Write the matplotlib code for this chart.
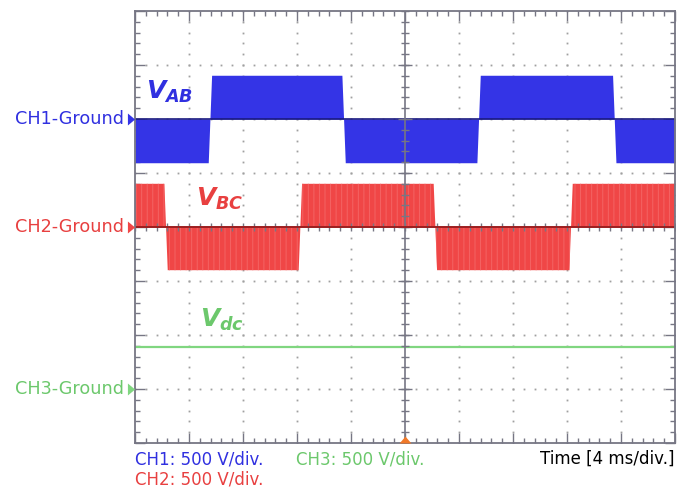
import numpy as np
import matplotlib
matplotlib.use("Agg")
import matplotlib.pyplot as plt
from matplotlib.ticker import MultipleLocator
from matplotlib.transforms import blended_transform_factory

plt.rcParams['font.family'] = ['DejaVu Sans']
plt.rcParams['mathtext.fontset'] = 'custom'
plt.rcParams['mathtext.it'] = 'DejaVu Sans:italic:bold'
plt.rcParams['mathtext.rm'] = 'DejaVu Sans:bold'
plt.rcParams['mathtext.bf'] = 'DejaVu Sans:bold'
plt.rcParams['hatch.linewidth'] = 0.7

# ---------------- data ----------------
time_per_div_ms = 4          # 4 ms/div
volt_per_div = 500           # 500 V/div for all channels
n_xdiv = 10
n_ydiv = 8

channel_names = ["CH1", "CH2", "CH3"]
ground_offsets_div = [2, 0, -3]          # ground marker positions (divisions)

# V_AB : square-ish PWM line voltage (CH1)
vab_edges_ms = [5.55, 15.45, 25.45, 35.5]
vab_start_sign = -1
vab_amplitude_V = 405

# V_BC : (CH2)
vbc_edges_ms = [2.3, 12.25, 22.25, 32.3]
vbc_start_sign = 1
vbc_amplitude_V = 400

# V_dc : (CH3)
vdc_V = 390

edge_ramp_ms = 0.25

bottom_labels = ["CH1: 500 V/div.", "CH2: 500 V/div.", "CH3: 500 V/div."]
time_label = "Time [4 ms/div.]"

# ---------------- styling ----------------
BLUE = '#3434e6'
BLUE_DARK = '#1a1a80'
BLUE_TXT = '#3030e0'
RED = '#f04646'
RED_LIGHT = '#f46464'
RED_DARK = '#a01818'
RED_TXT = '#e84040'
GREEN = '#80d680'
GREEN_TXT = '#6cc86c'
GRAY = '#767684'
DOT = '#a0a0a0'
ORANGE = '#f07828'

W, H = 678, 491
fig = plt.figure(figsize=(W / 100, H / 100), dpi=100)
ax = fig.add_axes([135 / W, 48 / H, 540 / W, 432 / H])
xmax = n_xdiv * time_per_div_ms
ax.set_xlim(0, xmax)
ax.set_ylim(-n_ydiv / 2, n_ydiv / 2)


def square_wave(edges, start_sign, amp, t0, t1, ramp):
    t = [t0]
    v = [start_sign * amp]
    s = start_sign
    for e in edges:
        t += [e - ramp / 2, e + ramp / 2]
        v += [s * amp, -s * amp]
        s = -s
    t.append(t1)
    v.append(s * amp)
    return np.array(t), np.array(v)


# dotted graticule
xminor = np.arange(0, xmax + 1e-9, time_per_div_ms / 5)
yminor = np.arange(-n_ydiv / 2, n_ydiv / 2 + 1e-9, 0.2)
for gy in range(-n_ydiv // 2 + 1, n_ydiv // 2):
    if gy == 0:
        continue
    ax.plot(xminor, np.full_like(xminor, gy), ls='none', marker='s', ms=1.3,
            mew=0, color=DOT, zorder=1)
for gx in range(1, n_xdiv):
    if gx == n_xdiv // 2:
        continue
    ax.plot(np.full_like(yminor, gx * time_per_div_ms), yminor, ls='none',
            marker='s', ms=1.3, mew=0, color=DOT, zorder=1)

# waveforms
t, v = square_wave(vab_edges_ms, vab_start_sign, vab_amplitude_V, 0, xmax, edge_ramp_ms)
y = v / volt_per_div + ground_offsets_div[0]
ax.fill_between(t, ground_offsets_div[0], y, color=BLUE, lw=0, zorder=2)
ax.plot([0, xmax], [ground_offsets_div[0]] * 2, color=BLUE_DARK, lw=1.2, zorder=3)

t, v = square_wave(vbc_edges_ms, vbc_start_sign, vbc_amplitude_V, 0, xmax, edge_ramp_ms)
y = v / volt_per_div + ground_offsets_div[1]
ax.fill_between(t, ground_offsets_div[1], y, facecolor=RED, edgecolor=RED_LIGHT,
                hatch='|||', lw=0, zorder=2)

ax.plot([0, xmax], [vdc_V / volt_per_div + ground_offsets_div[2]] * 2,
        color=GREEN, lw=1.6, zorder=3)

# center cross with ticks
ax.axvline(xmax / 2, color=GRAY, lw=1.2, zorder=4)
ax.axhline(0, color=GRAY, lw=1.2, zorder=4)
ymaj = np.arange(-n_ydiv / 2 + 1, n_ydiv / 2)
ax.plot(np.full_like(yminor, xmax / 2), yminor, ls='none', marker='_', ms=6,
        mew=1, color=GRAY, zorder=4)
ax.plot(np.full_like(ymaj, xmax / 2), ymaj, ls='none', marker='_', ms=10,
        mew=1, color=GRAY, zorder=4)
ax.plot(xminor, np.zeros_like(xminor), ls='none', marker='|', ms=6,
        mew=1, color=GRAY, zorder=4)
ax.plot([0, xmax], [ground_offsets_div[1]] * 2, color=RED_DARK, lw=1.3, zorder=5)

# frame & ticks
for sp in ax.spines.values():
    sp.set_color(GRAY)
    sp.set_linewidth(1.3)
    sp.set_zorder(6)
ax.xaxis.set_major_locator(MultipleLocator(time_per_div_ms))
ax.xaxis.set_minor_locator(MultipleLocator(time_per_div_ms / 5))
ax.yaxis.set_major_locator(MultipleLocator(1))
ax.yaxis.set_minor_locator(MultipleLocator(0.2))
ax.tick_params(which='both', direction='in', top=True, right=True,
               labelbottom=False, labelleft=False, color=GRAY, width=1)
ax.tick_params(which='major', length=7)
ax.tick_params(which='minor', length=3.5)

# ground markers & labels
bt = blended_transform_factory(ax.transAxes, ax.transData)
gcols = [BLUE, RED, GREEN]
gtxt = [BLUE_TXT, RED_TXT, GREEN_TXT]
gmark = [(-0.6, -1), (-0.6, 1), (0.6, 0)]
for name, off, c, tc in zip(channel_names, ground_offsets_div, gcols, gtxt):
    ax.plot([-0.0065], [off], marker=gmark, ms=8.6, color=c, mew=0,
            transform=bt, clip_on=False, zorder=7)
    ax.text(-0.021, off, f"{name}-Ground", transform=bt, ha='right',
            va='center', color=tc, fontsize=12.7)

# trigger marker
tmark = [(-1, 0), (1, 0), (0, 1.17)]
ax.plot([xmax / 2], [-n_ydiv / 2], marker=tmark, ms=10, color=ORANGE, mew=0,
        clip_on=False, zorder=8)

# trace labels
ax.text(0.8, 2.5, r'$V_{AB}$', color=BLUE_TXT, fontsize=18, ha='left', va='center', zorder=9)
ax.text(4.55, 0.52, r'$V_{BC}$', color=RED_TXT, fontsize=18, ha='left', va='center', zorder=9)
ax.text(4.8, -1.72, r'$V_{dc}$', color=GREEN_TXT, fontsize=18, ha='left', va='center', zorder=9)

# bottom annotations
fig.text(135 / W, 1 - 459 / H, bottom_labels[0], color=BLUE_TXT, fontsize=12, ha='left', va='center')
fig.text(135 / W, 1 - 480 / H, bottom_labels[1], color=RED_TXT, fontsize=12, ha='left', va='center')
fig.text(296 / W, 1 - 459 / H, bottom_labels[2], color=GREEN_TXT, fontsize=12, ha='left', va='center')
fig.text(675 / W, 1 - 459 / H, time_label, color='black', fontsize=12, ha='right', va='center')

fig.savefig("out.png", dpi=100)
